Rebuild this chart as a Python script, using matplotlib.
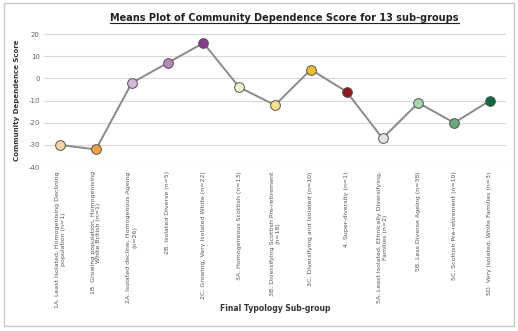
import matplotlib
matplotlib.use("Agg")
import matplotlib.pyplot as plt
from matplotlib.patches import Rectangle

categories = [
    "1A. Least Isolated, Homogenising Declining\npopulation (n=1)",
    "1B. Growing population, Homogenising\nWhite British (n=1)",
    "2A. Isolated decline, Homogenous Ageing\n(n=26)",
    "2B. Isolated Diverse (n=5)",
    "2C. Growing, Very Isolated White (n=22)",
    "3A. Homogeneous Scottish (n=13)",
    "3B. Diversifying Scottish Pre-retirement\n(n=18)",
    "3C. Diversifying and Isolated (n=10)",
    "4. Super-diversity (n=1)",
    "5A. Least Isolated, Ethnically Diversifying,\nFamilies (n=2)",
    "5B. Less Diverse Ageing (n=38)",
    "5C. Scottish Pre-retirement (n=10)",
    "5D. Very Isolated, White Families (n=3)",
]
scores = [-30, -32, -2, 7, 16, -4, -12, 4, -6, -27, -11, -20, -10]
colors = ["#FAD3A2", "#EFA33A", "#D8B6DC", "#B784BC", "#8C3A8C",
          "#F4F4CC", "#FAE08A", "#F2BE2E", "#8E1A1C", "#E4E4E4",
          "#A9D4A9", "#6AAA78", "#0C6A3C"]
yticks = [20, 10, 0, -10, -20, -30, -40]

fig = plt.figure(figsize=(5.18, 3.31), dpi=100)
fig.patches.append(Rectangle((0.008, 0.015), 0.985, 0.975, transform=fig.transFigure,
                             fill=False, edgecolor="#c8c8c8", linewidth=1.0))
ax = fig.add_axes([0.085, 0.495, 0.892, 0.402])
x = list(range(len(scores)))
ax.plot(x, scores, color="#8a8a8a", linewidth=1.4, zorder=2)
for xi, yi, c in zip(x, scores, colors):
    ax.plot(xi, yi, marker="o", markersize=7, markerfacecolor=c,
            markeredgecolor="#555555", markeredgewidth=0.7, zorder=3)
ax.set_ylim(-40, 20)
ax.set_xlim(-0.45, len(scores) - 0.55)
ax.set_yticks(yticks)
ax.set_yticklabels([str(t) for t in yticks], fontsize=5, color="#666666")
ax.set_xticks(x)
ax.set_xticklabels(categories, rotation=90, fontsize=4.5, color="#555555",
                   ha="center", va="top", multialignment="center")
ax.tick_params(axis="both", length=0, pad=3)
ax.grid(axis="y", color="#d9d9d9", linewidth=0.8)
ax.set_axisbelow(True)
for s in ax.spines.values():
    s.set_visible(False)
ax.set_ylabel("Community Dependence Score", fontsize=5, fontweight="bold", color="#333333", labelpad=6)
fig.text(0.531, 0.068, "Final Typology Sub-group", fontsize=5.5, fontweight="bold",
         color="#333333", ha="center", va="center")
t = fig.text(0.549, 0.945, "Means Plot of Community Dependence Score for 13 sub-groups",
             fontsize=7, fontweight="bold", color="#222222", ha="center", va="center")
fig.canvas.draw()
bb = t.get_window_extent().transformed(fig.transFigure.inverted())
fig.add_artist(plt.Line2D([bb.x0, bb.x1], [bb.y0 + 0.002, bb.y0 + 0.002],
                          transform=fig.transFigure, color="#222222", linewidth=0.8))
fig.savefig("out.png", dpi=100)
